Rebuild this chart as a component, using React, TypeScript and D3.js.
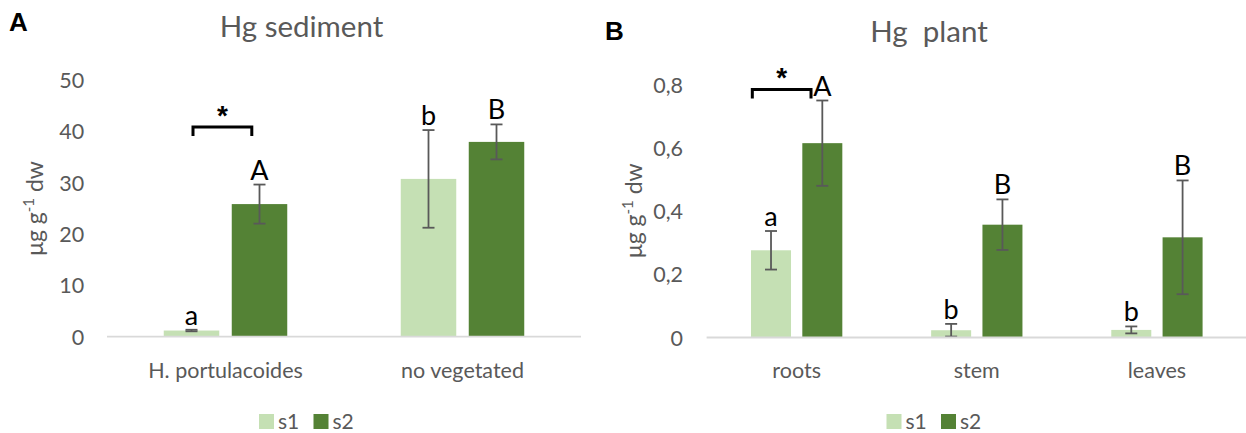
import React from "react";
import * as d3 from "d3";

// ---------- data ----------
const sedCategories = ["H. portulacoides", "no vegetated"];
const sedS1 = [1.2, 30.7];
const sedS1Err = [0.15, 9.5];
const sedS2 = [25.8, 37.9];
const sedS2Err = [3.8, 3.4];
const sedS1Letters = ["a", "b"];
const sedS2Letters = ["A", "B"];
const sedTicks = [0, 10, 20, 30, 40, 50];

const plantCategories = ["roots", "stem", "leaves"];
const plantS1 = [0.276, 0.023, 0.024];
const plantS1Err = [0.061, 0.02, 0.011];
const plantS2 = [0.615, 0.357, 0.317];
const plantS2Err = [0.135, 0.08, 0.18];
const plantS1Letters = ["a", "b", "b"];
const plantS2Letters = ["A", "B", "B"];
const plantTicks = [0, 0.2, 0.4, 0.6, 0.8];

const seriesNames = ["s1", "s2"];
const seriesColors = ["#C5E0B4", "#548235"];

const FONT = "Lato, 'Open Sans', sans-serif";
const GREY = "#595959";

type PanelProps = {
  cats: string[];
  s1: number[];
  s1e: number[];
  s2: number[];
  s2e: number[];
  l1: string[];
  l2: string[];
  ticks: number[];
  tickFmt: (v: number) => string;
  yMax: number;
  x0: number;
  x1: number;
  yBase: number;
  yTop: number;
  bw: number;
  gap: number;
  tickX: number;
  title: string;
  titleX: number;
  titleY: number;
  panel: string;
  panelX: number;
  panelY: number;
  ylabX: number;
  ylabY: number;
  legendX: number;
  bracket: { from: number; to: number; level: number; starDy: number };
};

function Panel(p: PanelProps) {
  const x = d3.scaleBand<string>().domain(p.cats).range([p.x0, p.x1]);
  const y = d3.scaleLinear().domain([0, p.yMax]).range([p.yBase, p.yTop]);
  const errColor = "#595959";
  const cap = 6;
  const bars: any[] = [];
  p.cats.forEach((c, i) => {
    const cx = (x(c) as number) + x.bandwidth() / 2;
    const series = [
      { v: p.s1[i], e: p.s1e[i], l: p.l1[i], x: cx - p.gap / 2 - p.bw, col: seriesColors[0] },
      { v: p.s2[i], e: p.s2e[i], l: p.l2[i], x: cx + p.gap / 2, col: seriesColors[1] },
    ];
    series.forEach((s, j) => {
      const bx = s.x + p.bw / 2;
      const yt = y(s.v + s.e);
      const yb = y(Math.max(0, s.v - s.e));
      bars.push(
        <g key={c + j}>
          <rect x={s.x} y={y(s.v)} width={p.bw} height={p.yBase - y(s.v)} fill={s.col} />
          <line x1={bx} x2={bx} y1={yt} y2={yb} stroke={errColor} strokeWidth={1.8} />
          <line x1={bx - cap} x2={bx + cap} y1={yt} y2={yt} stroke={errColor} strokeWidth={1.8} />
          <line x1={bx - cap} x2={bx + cap} y1={yb} y2={yb} stroke={errColor} strokeWidth={1.8} />
          <text x={bx} y={yt - 5} textAnchor="middle" fontFamily={FONT} fontSize={27} fill="#000">
            {s.l}
          </text>
        </g>
      );
    });
  });
  const c0 = (x(p.cats[0]) as number) + x.bandwidth() / 2;
  const s1c = c0 - p.gap / 2 - p.bw / 2;
  const s2c = c0 + p.gap / 2 + p.bw / 2;
  const bx1 = s1c + p.bracket.from;
  const bx2 = s2c + p.bracket.to;
  const by = y(p.bracket.level);
  return (
    <g>
      <text x={p.panelX} y={p.panelY} fontFamily="'Liberation Sans', Arial, sans-serif" fontWeight="bold" fontSize={26} fill="#000">
        {p.panel}
      </text>
      <text x={p.titleX} y={p.titleY} textAnchor="middle" fontFamily={FONT} fontSize={29.5} fill={GREY} style={{ whiteSpace: "pre" }}>
        {p.title}
      </text>
      {p.ticks.map((t) => (
        <text key={t} x={p.tickX} y={y(t)} textAnchor="end" dominantBaseline="central" fontFamily={FONT} fontSize={21.5} fill={GREY}>
          {p.tickFmt(t)}
        </text>
      ))}
      <text
        transform={`translate(${p.ylabX},${p.ylabY}) rotate(-90)`}
        textAnchor="middle"
        fontFamily={FONT}
        fontSize={23}
        fill={GREY}
      >
        μg g<tspan fontSize={15} dy={-9}>-1</tspan>
        <tspan dy={9}> dw</tspan>
      </text>
      {bars}
      <line x1={p.x0} x2={p.x1} y1={p.yBase} y2={p.yBase} stroke="#D9D9D9" strokeWidth={1.8} />
      {p.cats.map((c) => (
        <text key={c} x={(x(c) as number) + x.bandwidth() / 2} y={378} textAnchor="middle" fontFamily={FONT} fontSize={21.5} fill={GREY}>
          {c}
        </text>
      ))}
      <path d={`M${bx1},${by + 9}V${by}H${bx2}V${by + 9}`} fill="none" stroke="#000" strokeWidth={3} />
      <text x={(bx1 + bx2) / 2} y={by + p.bracket.starDy} textAnchor="middle" fontFamily="'Liberation Sans', Arial, sans-serif" fontWeight="bold" fontSize={28} fill="#000">
        *
      </text>
      {seriesNames.map((n, i) => (
        <g key={n}>
          <rect x={p.legendX + i * 54.5} y={414} width={15} height={15} fill={seriesColors[i]} />
          <text x={p.legendX + i * 54.5 + 19} y={428.5} fontFamily={FONT} fontSize={21} fill={GREY}>
            {n}
          </text>
        </g>
      ))}
    </g>
  );
}

export default function App() {
  return (
    <svg width={1246} height={433} style={{ position: "absolute", left: 0, top: 0, background: "#fff" }}>
      <rect width={1246} height={433} fill="#fff" />
      <Panel
        cats={sedCategories}
        s1={sedS1}
        s1e={sedS1Err}
        s2={sedS2}
        s2e={sedS2Err}
        l1={sedS1Letters}
        l2={sedS2Letters}
        ticks={sedTicks}
        tickFmt={(v) => String(v)}
        yMax={50}
        x0={107}
        x1={581}
        yBase={336.7}
        yTop={79.7}
        bw={55.5}
        gap={12.5}
        tickX={84.3}
        title="Hg sediment"
        titleX={301.5}
        titleY={37}
        panel="A"
        panelX={9}
        panelY={31}
        ylabX={43}
        ylabY={208.5}
        legendX={259}
        bracket={{ from: 1.5, to: -7.7, level: 40.8, starDy: -2 }}
      />
      <Panel
        cats={plantCategories}
        s1={plantS1}
        s1e={plantS1Err}
        s2={plantS2}
        s2e={plantS2Err}
        l1={plantS1Letters}
        l2={plantS2Letters}
        ticks={plantTicks}
        tickFmt={(v) => (v === 0 ? "0" : d3.format(".1f")(v).replace(".", ","))}
        yMax={0.8}
        x0={706.6}
        x1={1247}
        yBase={337.5}
        yTop={84.7}
        bw={40}
        gap={11.3}
        tickX={683}
        title={"Hg  plant"}
        titleX={929}
        titleY={42}
        panel="B"
        panelX={605}
        panelY={40}
        ylabX={641.7}
        ylabY={210.7}
        legendX={886.5}
        bracket={{ from: -18.7, to: -11.3, level: 0.785, starDy: -2 }}
      />
    </svg>
  );
}
